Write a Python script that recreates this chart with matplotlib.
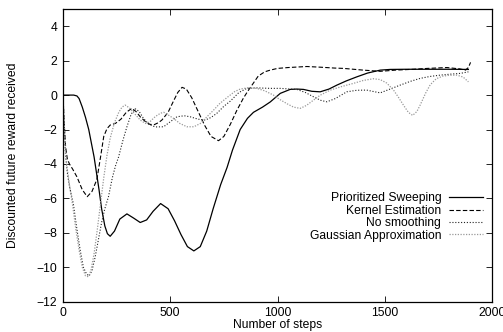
import matplotlib
matplotlib.use("Agg")
import matplotlib.pyplot as plt

# Prioritized Sweeping (solid)
ps_x = [0, 50, 65, 75, 90, 105, 120, 145, 168, 180, 195, 207, 220, 240, 265, 298, 330, 360,
        390, 420, 455, 490, 520, 550, 580, 610, 640, 670, 700, 735, 765, 790, 826, 860, 888,
        930, 966, 1013, 1059, 1090, 1121, 1160, 1199, 1240, 1277, 1320, 1370, 1420, 1479,
        1525, 1600, 1712, 1800, 1890]
ps_y = [0, 0, -0.05, -0.2, -0.7, -1.3, -2.0, -3.6, -5.5, -6.6, -7.6, -8.05, -8.2, -7.9, -7.2,
        -6.9, -7.15, -7.4, -7.25, -6.75, -6.3, -6.6, -7.3, -8.1, -8.8, -9.05, -8.8, -7.9, -6.6,
        -5.2, -4.2, -3.2, -2.0, -1.35, -1.0, -0.7, -0.4, 0.1, 0.33, 0.35, 0.33, 0.22, 0.19, 0.35,
        0.58, 0.82, 1.06, 1.28, 1.45, 1.49, 1.5, 1.5, 1.5, 1.49]

# Kernel Estimation (dashed)
ke_x = [0, 5, 12, 20, 30, 45, 65, 90, 113, 135, 158, 175, 190, 205, 220, 245, 270, 295, 321,
        340, 360, 385, 405, 425, 445, 461, 490, 515, 535, 555, 575, 600, 630, 660, 690, 725,
        750, 780, 810, 840, 860, 885, 910, 940, 966, 1000, 1050, 1137, 1200, 1265, 1308, 1400,
        1479, 1550, 1634, 1700, 1790, 1850, 1876, 1890, 1900]
ke_y = [0, -1.5, -3.0, -3.7, -4.0, -4.3, -4.75, -5.5, -5.9, -5.6, -4.9, -3.6, -2.4, -1.95,
        -1.74, -1.64, -1.4, -1.0, -0.77, -0.95, -1.26, -1.55, -1.7, -1.72, -1.6, -1.45, -1.0,
        -0.35, 0.15, 0.45, 0.35, -0.15, -0.95, -1.75, -2.4, -2.65, -2.4, -1.7, -0.9, -0.2, 0.2,
        0.65, 1.1, 1.35, 1.45, 1.55, 1.6, 1.66, 1.62, 1.57, 1.55, 1.45, 1.38, 1.45, 1.5, 1.55,
        1.6, 1.52, 1.45, 1.6, 1.9]

# No smoothing (dark dotted)
ns_x = [0, 5, 12, 20, 30, 48, 65, 80, 95, 110, 122, 135, 150, 165, 180, 195, 212, 230, 245,
        259, 280, 298, 318, 337, 355, 375, 400, 430, 469, 500, 531, 565, 593, 630, 663, 690,
        717, 750, 780, 820, 857, 900, 966, 1013, 1050, 1090, 1130, 1168, 1200, 1230, 1270,
        1323, 1370, 1416, 1450, 1479, 1525, 1572, 1620, 1665, 1710, 1759, 1810, 1852, 1890]
ns_y = [0, -1.5, -3.5, -4.5, -5.3, -6.3, -7.8, -9.0, -10.0, -10.4, -10.5, -10.2, -9.4, -8.4,
        -7.4, -6.6, -5.9, -4.8, -4.1, -3.6, -2.6, -1.84, -1.1, -0.8, -0.95, -1.35, -1.7, -1.85,
        -1.84, -1.55, -1.26, -1.2, -1.26, -1.4, -1.45, -1.3, -1.06, -0.65, -0.35, 0.15, 0.39,
        0.42, 0.39, 0.39, 0.36, 0.33, 0.15, -0.1, -0.3, -0.39, -0.2, 0.19, 0.28, 0.29, 0.2,
        0.13, 0.35, 0.58, 0.8, 0.97, 1.08, 1.16, 1.22, 1.26, 1.35]

# Gaussian Approximation (light grey dotted)
ga_x = [0, 5, 10, 20, 30, 45, 60, 75, 90, 105, 118, 130, 145, 160, 175, 190, 205, 220, 240,
        260, 275, 290, 310, 335, 360, 385, 405, 430, 455, 470, 490, 515, 545, 578, 610, 640,
        671, 700, 730, 764, 800, 826, 860, 904, 940, 981, 1010, 1044, 1075, 1106, 1135, 1168,
        1200, 1246, 1300, 1354, 1400, 1447, 1479, 1509, 1541, 1565, 1587, 1610, 1630, 1650,
        1665, 1690, 1712, 1740, 1770, 1800, 1836, 1865, 1890]
ga_y = [0, -1.5, -3.0, -4.3, -5.2, -6.4, -7.8, -9.0, -10.0, -10.5, -10.55, -10.2, -9.2, -7.8,
        -6.3, -4.8, -3.5, -2.5, -1.6, -1.0, -0.7, -0.58, -0.75, -1.1, -1.45, -1.65, -1.55,
        -1.25, -1.05, -1.0, -1.15, -1.35, -1.65, -1.84, -1.84, -1.65, -1.26, -0.9, -0.5, -0.15,
        0.2, 0.35, 0.42, 0.39, 0.25, 0.0, -0.25, -0.5, -0.7, -0.77, -0.6, -0.29, 0.0, 0.29, 0.5,
        0.68, 0.85, 0.95, 0.9, 0.7, 0.29, -0.15, -0.58, -1.0, -1.18, -0.95, -0.58, 0.1, 0.6,
        0.95, 1.1, 1.15, 1.16, 1.05, 0.77]

x_ticks = [0, 500, 1000, 1500, 2000]
y_ticks = [-12, -10, -8, -6, -4, -2, 0, 2, 4]

FS = 8.7
plt.rcParams['font.family'] = ['Liberation Sans', 'DejaVu Sans']
plt.rcParams['font.size'] = FS

fig = plt.figure(figsize=(5.03, 3.32), dpi=100)
ax = fig.add_axes([63 / 503, 1 - 301.7 / 332, 429 / 503, 292.7 / 332])

ax.plot(ps_x, ps_y, color='black', lw=0.9, ls='-', label='Prioritized Sweeping')
ax.plot(ke_x, ke_y, color='black', lw=0.8, ls=(0, (4, 2)), label='Kernel Estimation')
ax.plot(ns_x, ns_y, color='#222222', lw=0.8, ls=(0, (1, 1.6)), label='No smoothing')
ax.plot(ga_x, ga_y, color='#999999', lw=0.9, ls=(0, (1, 1.2)), label='Gaussian Approximation')

ax.set_xlim(0, 2000)
ax.set_ylim(-12, 5)
ax.set_xticks(x_ticks)
ax.set_yticks(y_ticks)
ax.tick_params(direction='in', length=4, width=0.6, top=True, right=True, labelsize=FS)
ax.tick_params(axis='x', pad=4)
ax.tick_params(axis='y', pad=4)
for s in ax.spines.values():
    s.set_linewidth(0.9)

fig.text(13 / 503, 1 - 155 / 332, 'Discounted future reward received', rotation=90,
         ha='center', va='center', fontsize=FS)
fig.text(277.5 / 503, 1 - 325 / 332, 'Number of steps', ha='center', va='center', fontsize=FS)

ax.legend(loc='upper right', bbox_to_anchor=(483 / 503, 1 - 192.5 / 332),
          bbox_transform=fig.transFigure, frameon=False, markerfirst=False,
          handlelength=2.8, handletextpad=0.65, labelspacing=0.03, borderpad=0,
          borderaxespad=0, fontsize=FS)

fig.savefig('out.png', dpi=100)
